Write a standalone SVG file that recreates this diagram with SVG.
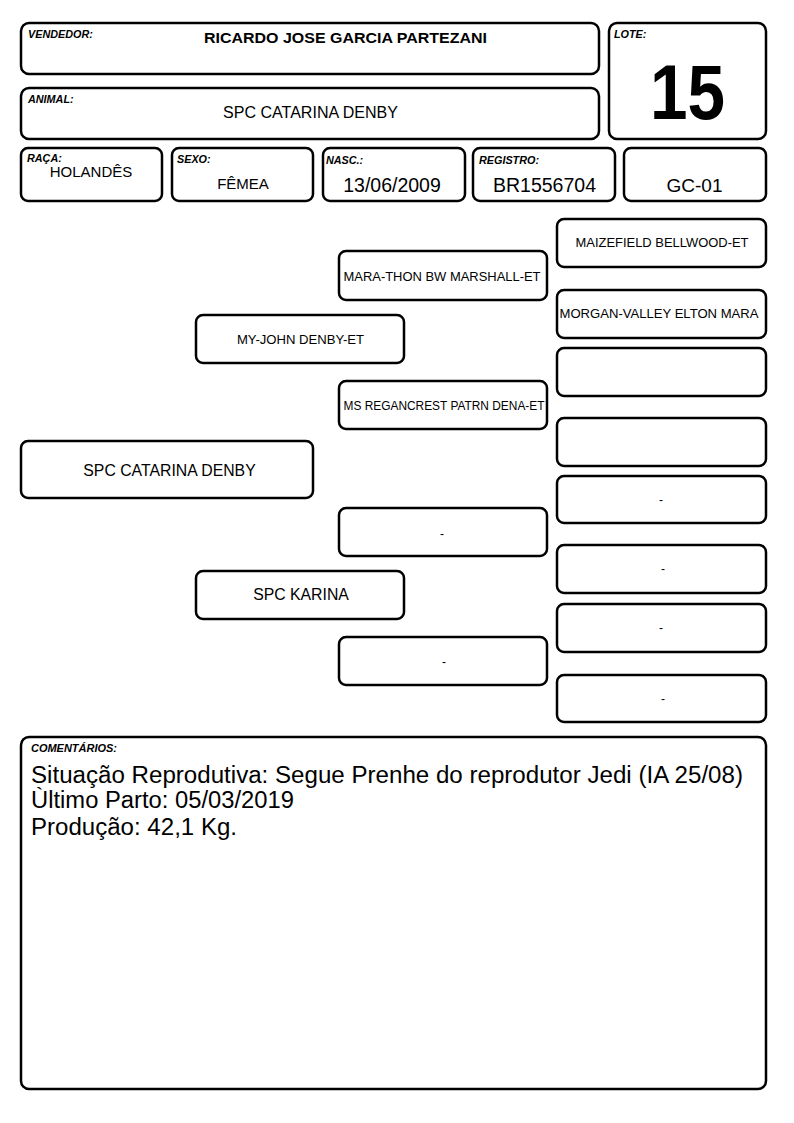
<svg xmlns="http://www.w3.org/2000/svg" width="794" height="1123" viewBox="0 0 794 1123">
<style>
.b{fill:#fff;stroke:#000;stroke-width:2.5}
.l{font-family:"Liberation Sans",Arial,sans-serif;font-size:10.8px;font-weight:bold;font-style:italic;fill:#000}
.t{font-family:"Liberation Sans",Arial,sans-serif;fill:#000;text-anchor:middle}
</style>
<rect width="794" height="1123" fill="#fff"/>
<g id="vendedor">
<rect class="b" x="21" y="23" width="578" height="51" rx="8"/>
<text class="l" x="28" y="38">VENDEDOR:</text>
<text class="t" x="345.5" y="43" font-size="15" font-weight="bold" textLength="283" lengthAdjust="spacingAndGlyphs">RICARDO JOSE GARCIA PARTEZANI</text>
</g>
<g id="animal">
<rect class="b" x="21" y="88" width="578" height="51" rx="8"/>
<text class="l" x="28" y="103">ANIMAL:</text>
<text class="t" x="310.5" y="118" font-size="16" textLength="175" lengthAdjust="spacingAndGlyphs">SPC CATARINA DENBY</text>
</g>
<g id="lote">
<rect class="b" x="609" y="23" width="157" height="116" rx="8"/>
<text class="l" x="614" y="38">LOTE:</text>
<text class="t" x="687.5" y="119" font-size="77" font-weight="bold" textLength="75" lengthAdjust="spacingAndGlyphs">15</text>
</g>
<g id="raca">
<rect class="b" x="21" y="148" width="141" height="53" rx="7"/>
<text class="l" x="27" y="162">RAÇA:</text>
<text class="t" x="91" y="177" font-size="15">HOLANDÊS</text>
</g>
<g id="sexo">
<rect class="b" x="172" y="148" width="141" height="53" rx="7"/>
<text class="l" x="177" y="163">SEXO:</text>
<text class="t" x="243" y="189" font-size="15">FÊMEA</text>
</g>
<g id="nasc">
<rect class="b" x="323" y="148" width="142" height="53" rx="7"/>
<text class="l" x="326" y="164">NASC.:</text>
<text class="t" x="392" y="192" font-size="19.5">13/06/2009</text>
</g>
<g id="registro">
<rect class="b" x="473" y="148" width="142" height="53" rx="7"/>
<text class="l" x="479" y="164">REGISTRO:</text>
<text class="t" x="544.5" y="192" font-size="19.5">BR1556704</text>
</g>
<g id="gc">
<rect class="b" x="624" y="148" width="142" height="53" rx="7"/>
<text class="t" x="694.5" y="192" font-size="19">GC-01</text>
</g>
<g id="connectors"></g>
<g id="n-animal">
<rect class="b" x="21" y="441" width="292" height="57" rx="7"/>
<text class="t" x="169.5" y="476" font-size="15.8">SPC CATARINA DENBY</text>
</g>
<g id="n-pai">
<rect class="b" x="196" y="315" width="208" height="48" rx="7"/>
<text class="t" x="300.5" y="344" font-size="13.1">MY-JOHN DENBY-ET</text>
</g>
<g id="n-mae">
<rect class="b" x="196" y="571" width="208" height="48" rx="7"/>
<text class="t" x="301" y="600" font-size="15.8">SPC KARINA</text>
</g>
<g id="n-avo-pp">
<rect class="b" x="339" y="251" width="208" height="49" rx="7"/>
<text class="t" x="442" y="281" font-size="13.5" textLength="197" lengthAdjust="spacingAndGlyphs">MARA-THON BW MARSHALL-ET</text>
</g>
<g id="n-avo-pm">
<rect class="b" x="339" y="381" width="208" height="48" rx="7"/>
<text class="t" x="444" y="410" font-size="12.5" textLength="201" lengthAdjust="spacingAndGlyphs">MS REGANCREST PATRN DENA-ET</text>
</g>
<g id="n-avo-mp">
<rect class="b" x="339" y="508" width="208" height="48" rx="7"/>
<text class="t" x="442" y="538" font-size="12">-</text>
</g>
<g id="n-avo-mm">
<rect class="b" x="339" y="637" width="208" height="48" rx="7"/>
<text class="t" x="444" y="666" font-size="12">-</text>
</g>
<g id="n-b1">
<rect class="b" x="557" y="219" width="209" height="48" rx="7"/>
<text class="t" x="662" y="247" font-size="13.5" textLength="173" lengthAdjust="spacingAndGlyphs">MAIZEFIELD BELLWOOD-ET</text>
</g>
<g id="n-b2">
<rect class="b" x="557" y="290" width="209" height="48" rx="7"/>
<text class="t" x="659" y="318" font-size="13.5" textLength="199" lengthAdjust="spacingAndGlyphs">MORGAN-VALLEY ELTON MARA</text>
</g>
<g id="n-b3">
<rect class="b" x="557" y="348" width="209" height="48" rx="7"/>
</g>
<g id="n-b4">
<rect class="b" x="557" y="418" width="209" height="48" rx="7"/>
</g>
<g id="n-b5">
<rect class="b" x="557" y="476" width="209" height="47" rx="7"/>
<text class="t" x="661" y="504" font-size="12">-</text>
</g>
<g id="n-b6">
<rect class="b" x="557" y="545" width="209" height="48" rx="7"/>
<text class="t" x="663" y="573" font-size="12">-</text>
</g>
<g id="n-b7">
<rect class="b" x="557" y="604" width="209" height="48" rx="7"/>
<text class="t" x="661" y="632" font-size="12">-</text>
</g>
<g id="n-b8">
<rect class="b" x="557" y="675" width="209" height="47" rx="7"/>
<text class="t" x="663" y="703" font-size="12">-</text>
</g>
<g id="comentarios">
<rect class="b" x="21" y="737" width="745" height="352" rx="8"/>
<text class="l" x="31" y="752" font-size="9" textLength="86" lengthAdjust="spacingAndGlyphs">COMENTÁRIOS:</text>
<text font-family="'Liberation Sans',Arial,sans-serif" font-size="23" fill="#000">
<tspan x="31" y="783" textLength="712" lengthAdjust="spacingAndGlyphs">Situação Reprodutiva: Segue Prenhe do reprodutor Jedi (IA 25/08)</tspan>
<tspan x="31" y="808" textLength="263" lengthAdjust="spacingAndGlyphs">Ùltimo Parto: 05/03/2019</tspan>
<tspan x="31" y="835" textLength="206" lengthAdjust="spacingAndGlyphs">Produção: 42,1 Kg.</tspan>
</text>
</g>
</svg>
